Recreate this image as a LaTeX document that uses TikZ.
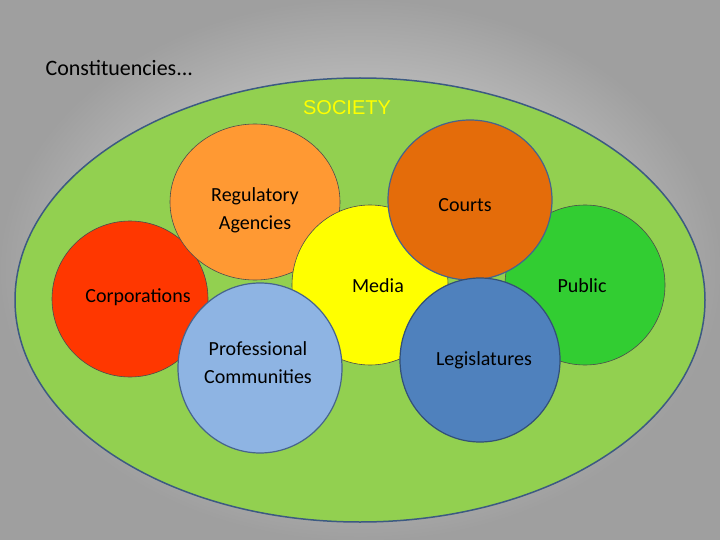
\documentclass[tikz,border=0pt]{standalone}
\usepackage{fontspec}
\setmainfont{Carlito}
\newfontfamily\arial{Liberation Sans}
\begin{document}
\begin{tikzpicture}[x=1pt,y=-1pt,
  circ/.style={line width=0.6pt},
  lbl/.style={font=\fontsize{20}{28}\selectfont,align=center}]
\useasboundingbox (0,0) rectangle (720,540);
\shade[inner color=gray!15,outer color=gray!75] (0,0) rectangle (720,540);
\node[anchor=west,font=\fontsize{22}{26}\selectfont] (title) at (42,68) {Constituencies...};
\draw[fill={rgb,255:red,146;green,208;blue,80},draw={rgb,255:red,60;green,90;blue,130},line width=1.5pt] (360,300) ellipse (345 and 222);
\node[font=\arial\fontsize{20}{24}\selectfont,text={rgb,255:red,255;green,255;blue,0}] (soc) at (347,108) {SOCIETY};
\filldraw[circ,fill={rgb,255:red,50;green,205;blue,50},draw=black!70] (585,285) ellipse (80 and 80);
\filldraw[circ,fill={rgb,255:red,255;green,55;blue,0},draw=black!70] (130,299) ellipse (78 and 78);
\filldraw[circ,fill={rgb,255:red,255;green,153;blue,51},draw=black!70] (255,202) ellipse (85 and 78);
\filldraw[circ,fill={rgb,255:red,255;green,255;blue,0},draw=black!70] (370,285) ellipse (78 and 80);
\filldraw[fill={rgb,255:red,228;green,108;blue,10},draw={rgb,255:red,70;green,100;blue,140},line width=1.2pt] (470,200) ellipse (82 and 80);
\filldraw[fill={rgb,255:red,142;green,180;blue,227},draw={rgb,255:red,70;green,100;blue,140},line width=1.2pt] (260,368) ellipse (82 and 85);
\filldraw[fill={rgb,255:red,79;green,129;blue,189},draw={rgb,255:red,50;green,80;blue,120},line width=1.2pt] (480,360) ellipse (80 and 82);
\node[lbl] (corp) at (138,297) {Corporations};
\node[lbl] (reg) at (255,210) {Regulatory\\Agencies};
\node[lbl] (med) at (378,286) {Media};
\node[lbl] (pub) at (582,286) {Public};
\node[lbl] (cou) at (465,205) {Courts};
\node[lbl] (pro) at (258,363) {Professional\\Communities};
\node[lbl] (leg) at (484,360) {Legislatures};
\end{tikzpicture}
\end{document}
